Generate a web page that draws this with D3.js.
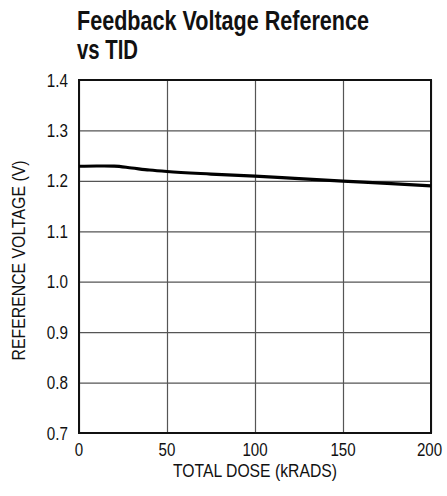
<!DOCTYPE html>
<html><head><meta charset="utf-8">
<script src="https://cdn.jsdelivr.net/npm/d3@7"></script>
<style>body{margin:0;background:#fff}svg{display:block}text{font-family:"Liberation Sans",Arial,sans-serif}</style>
</head><body><svg id="c" width="447" height="496"></svg>
<script>
const titleLines = ["Feedback Voltage Reference", "vs TID"];
const xLabel = "TOTAL DOSE (kRADS)";
const yLabel = "REFERENCE VOLTAGE (V)";
const xTicks = [0, 50, 100, 150, 200];
const yTicks = [0.7, 0.8, 0.9, 1.0, 1.1, 1.2, 1.3, 1.4];
const dose = [0, 10, 20, 30, 40, 50, 75, 100, 125, 150, 175, 200];
const vref = [1.229, 1.2295, 1.2293, 1.2255, 1.2215, 1.2185, 1.2135, 1.2093, 1.2043, 1.1995, 1.195, 1.19];

const svg = d3.select("#c");
const L = 79, R = 431, T = 80, B = 433;
const x = d3.scaleLinear().domain([0, 200]).range([L, R]);
const y = d3.scaleLinear().domain([0.7, 1.4]).range([B, T]);

function squeeze(sel, f) {
  sel.each(function() {
    const w = this.getComputedTextLength();
    d3.select(this).attr("textLength", w * f).attr("lengthAdjust", "spacingAndGlyphs");
  });
}
function fit(sel, w) {
  sel.attr("textLength", w).attr("lengthAdjust", "spacingAndGlyphs");
}

const titleW = [292, 61];
svg.append("g").selectAll("text").data(titleLines).join("text")
  .attr("x", 77).attr("y", (d, i) => 30 + i * 29)
  .attr("font-size", 27).attr("font-weight", "bold").attr("fill", "#111").text(d => d)
  .each(function(d, i) { fit(d3.select(this), titleW[i]); });

// grid
svg.append("g").attr("transform", `translate(0,${B})`)
  .call(d3.axisBottom(x).tickValues(xTicks).tickSize(-(B - T)).tickFormat(""))
  .call(g => g.select(".domain").remove())
  .call(g => g.selectAll("line").attr("stroke", "#555").attr("stroke-width", 1.2));
svg.append("g").attr("transform", `translate(${L},0)`)
  .call(d3.axisLeft(y).tickValues(yTicks).tickSize(-(R - L)).tickFormat(""))
  .call(g => g.select(".domain").remove())
  .call(g => g.selectAll("line").attr("stroke", "#555").attr("stroke-width", 1.2));

// frame
svg.append("rect").attr("x", L).attr("y", T).attr("width", R - L).attr("height", B - T)
  .attr("fill", "none").attr("stroke", "#111").attr("stroke-width", 2);

// tick labels
svg.append("g").selectAll("text").data(yTicks).join("text")
  .attr("x", 68).attr("y", d => y(d) + 6.5).attr("text-anchor", "end")
  .attr("font-size", 19).attr("fill", "#111").text(d => d.toFixed(1))
  .call(squeeze, 0.8);
svg.append("g").selectAll("text").data(xTicks).join("text")
  .attr("transform", d => `translate(${d === 200 ? x(d) - 1.5 : x(d)},455.5) scale(0.84,1)`)
  .attr("text-anchor", "middle")
  .attr("font-size", 18).attr("fill", "#111").text(d => d);

svg.append("text").attr("x", 255).attr("y", 477).attr("text-anchor", "middle")
  .attr("font-size", 17.5).attr("fill", "#111").text(xLabel).call(fit, 164);
svg.append("text").attr("transform", `translate(24.5,260.5) rotate(-90)`)
  .attr("text-anchor", "middle").attr("font-size", 18).attr("fill", "#111").text(yLabel).call(fit, 200);

// curve
const pts = dose.map((d, i) => [d, vref[i]]);
svg.append("path").datum(pts)
  .attr("d", d3.line().x(d => x(d[0])).y(d => y(d[1])).curve(d3.curveMonotoneX))
  .attr("fill", "none").attr("stroke", "#000").attr("stroke-width", 3.2);
</script></body></html>
